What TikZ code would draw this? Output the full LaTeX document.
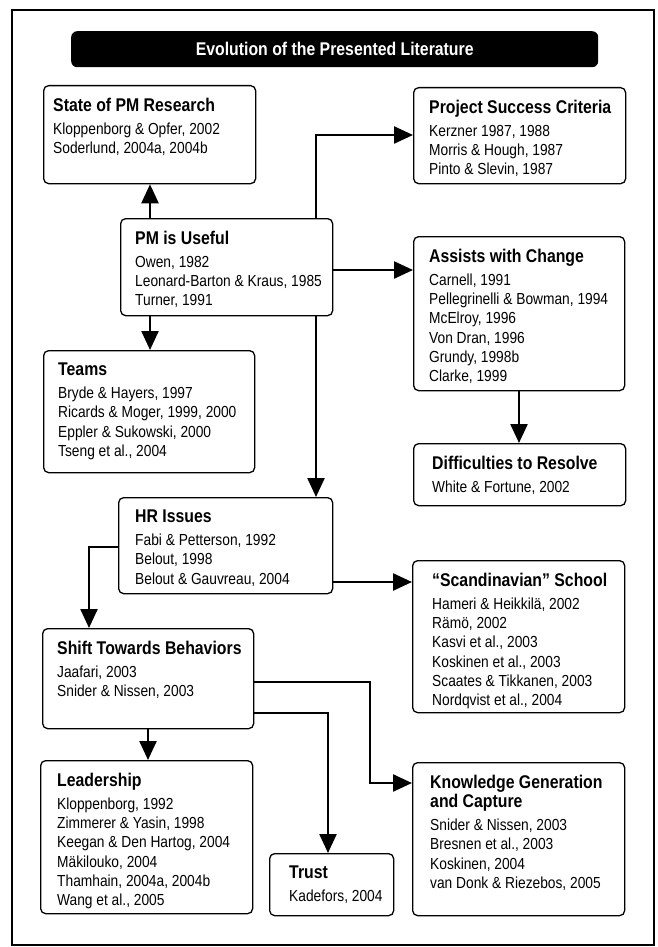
\documentclass[tikz,border=0pt]{standalone}
\usepackage{fontspec}
\setmainfont{Liberation Sans}[FakeStretch=0.86]
\usetikzlibrary{arrows.meta,calc}
\newcommand{\ttlfont}{\fontsize{18.4}{19.3}\selectfont\bfseries}
\newcommand{\bodyfont}{\fontsize{16}{19.3}\selectfont}
\begin{document}
\begin{tikzpicture}[x=1pt,y=-1pt,
  box/.style={draw, line width=1.3pt, rounded corners=5pt, fill=white, anchor=north west, inner sep=0pt},
  txt/.style={anchor=north west, inner sep=0pt, align=left, font=\bodyfont},
  arr/.style={line width=2.4pt, -{Triangle[length=19pt,width=17pt]}, line join=miter}]
\useasboundingbox (0,0) rectangle (658,947);
\draw[line width=1.3pt] (12,10) rectangle (654,945);
\node[fill=black, rounded corners=6pt, minimum width=527pt, minimum height=36pt, anchor=north west, inner sep=0pt, text=white, font=\ttlfont] (title) at (71,31) {Evolution of the Presented Literature};

% boxes
\node[box, minimum width=212pt, minimum height=98pt] (st) at (43,85) {};
\node[box, minimum width=212pt, minimum height=96pt] (psc) at (413,87) {};
\node[box, minimum width=212pt, minimum height=97pt] (pm) at (120,218) {};
\node[box, minimum width=211pt, minimum height=154pt] (ac) at (413,236) {};
\node[box, minimum width=211pt, minimum height=122pt] (tm) at (43,350) {};
\node[box, minimum width=212pt, minimum height=62pt] (df) at (413,443) {};
\node[box, minimum width=214pt, minimum height=96pt] (hr) at (118,497) {};
\node[box, minimum width=212pt, minimum height=152pt] (sc) at (412,560) {};
\node[box, minimum width=211pt, minimum height=100pt] (sh) at (42,628) {};
\node[box, minimum width=212pt, minimum height=153pt] (ld) at (40,760) {};
\node[box, minimum width=124pt, minimum height=62pt] (tr) at (269,853) {};
\node[box, minimum width=212pt, minimum height=153pt] (kg) at (412,762) {};

% texts
\node[txt] (stT) at ($(st.north west)+(10,13)$) {{\ttlfont State of PM Research}\\[3.5pt]Kloppenborg \& Opfer, 2002\\Soderlund, 2004a, 2004b};
\node[txt] (pscT) at ($(psc.north west)+(16,13)$) {{\ttlfont Project Success Criteria}\\[3.5pt]Kerzner 1987, 1988\\Morris \& Hough, 1987\\Pinto \& Slevin, 1987};
\node[txt] (pmT) at ($(pm.north west)+(15,13)$) {{\ttlfont PM is Useful}\\[3.5pt]Owen, 1982\\Leonard-Barton \& Kraus, 1985\\Turner, 1991};
\node[txt] (acT) at ($(ac.north west)+(16,13)$) {{\ttlfont Assists with Change}\\[3.5pt]Carnell, 1991\\Pellegrinelli \& Bowman, 1994\\McElroy, 1996\\Von Dran, 1996\\Grundy, 1998b\\Clarke, 1999};
\node[txt] (tmT) at ($(tm.north west)+(15,13)$) {{\ttlfont Teams}\\[3.5pt]Bryde \& Hayers, 1997\\Ricards \& Moger, 1999, 2000\\Eppler \& Sukowski, 2000\\Tseng et al., 2004};
\node[txt] (dfT) at ($(df.north west)+(19,13)$) {{\ttlfont Difficulties to Resolve}\\[3.5pt]White \& Fortune, 2002};
\node[txt] (hrT) at ($(hr.north west)+(17,13)$) {{\ttlfont HR Issues}\\[3.5pt]Fabi \& Petterson, 1992\\Belout, 1998\\Belout \& Gauvreau, 2004};
\node[txt] (scT) at ($(sc.north west)+(20,13)$) {{\ttlfont “Scandinavian” School}\\[3.5pt]Hameri \& Heikkilä, 2002\\Rämö, 2002\\Kasvi et al., 2003\\Koskinen et al., 2003\\Scaates \& Tikkanen, 2003\\Nordqvist et al., 2004};
\node[txt] (shT) at ($(sh.north west)+(15,13)$) {{\ttlfont Shift Towards Behaviors}\\[3.5pt]Jaafari, 2003\\Snider \& Nissen, 2003};
\node[txt] (ldT) at ($(ld.north west)+(17,13)$) {{\ttlfont Leadership}\\[3.5pt]Kloppenborg, 1992\\Zimmerer \& Yasin, 1998\\Keegan \& Den Hartog, 2004\\Mäkilouko, 2004\\Thamhain, 2004a, 2004b\\Wang et al., 2005};
\node[txt] (trT) at ($(tr.north west)+(20,13)$) {{\ttlfont Trust}\\[3.5pt]Kadefors, 2004};
\node[txt] (kgT) at ($(kg.north west)+(18,13)$) {{\ttlfont Knowledge Generation}\\{\ttlfont and Capture}\\[3.5pt]Snider \& Nissen, 2003\\Bresnen et al., 2003\\Koskinen, 2004\\van Donk \& Riezebos, 2005};

% helper coordinates
\coordinate (c150) at (150,0);
\coordinate (c3) at (316,135);
\coordinate (c4) at (0,270);
\coordinate (c5) at (519,0);
\coordinate (c7) at (0,582);
\coordinate (c8) at (89,547);
\coordinate (c9) at (148,0);
\coordinate (c10a) at (370,682);
\coordinate (c10b) at (370,783);
\coordinate (c11) at (328,713);

% connectors
\draw[arr] (pm.north -| c150) -- (st.south -| c150);
\draw[arr] (pm.south -| c150) -- (tm.north -| c150);
\draw[arr] (pm.north -| c3) |- (psc.west |- c3);
\draw[arr] (pm.east |- c4) -- (ac.west |- c4);
\draw[arr] (ac.south -| c5) -- (df.north -| c5);
\draw[arr] (pm.south -| c3) -- (hr.north -| c3);
\draw[arr] (hr.east |- c7) -- (sc.west |- c7);
\draw[arr] (hr.west |- c8) -| (sh.north -| c8);
\draw[arr] (sh.south -| c9) -- (ld.north -| c9);
\draw[arr] (sh.east |- c10a) -- (c10a) -- (c10b) -- (kg.west |- c10b);
\draw[arr] (sh.east |- c11) -| (tr.north -| c11);
\end{tikzpicture}
\end{document}
